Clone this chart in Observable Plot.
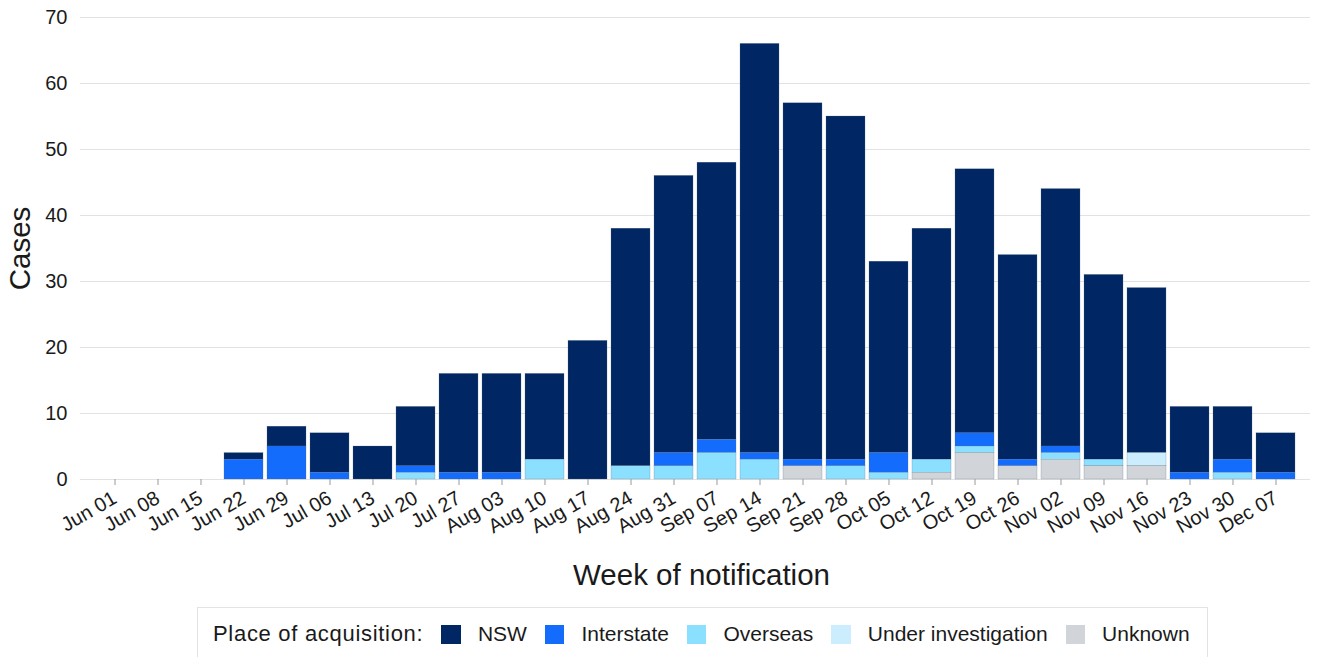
<!DOCTYPE html>
<html>
<head>
<meta charset="utf-8">
<script src="https://cdn.jsdelivr.net/npm/d3@7"></script>
<script src="https://cdn.jsdelivr.net/npm/@observablehq/plot@0.6"></script>
<style>
  body { margin: 0; background: #fff; font-family: "Liberation Sans", Arial, sans-serif; }
  #chart svg { display: block; }
  .legend { position: absolute; left: 197px; top: 607px; width: 1011px; height: 60px; box-sizing: border-box;
    border: 1px solid #e3e3e3; display: flex; align-items: center; padding-left: 15px; padding-bottom: 6px;
    font-size: 21px; color: #1a1a1a; white-space: nowrap; }
  .legend .title { font-size: 22px; letter-spacing: 0.7px; }
  .legend .sw { width: 19.5px; height: 19px; margin-left: 18px; margin-right: 17px; flex: none; }
</style>
</head>
<body>
<div id="chart"></div>
<div class="legend" id="legend"></div>
<script>
const weeks = ["Jun 01","Jun 08","Jun 15","Jun 22","Jun 29","Jul 06","Jul 13","Jul 20","Jul 27","Aug 03","Aug 10","Aug 17","Aug 24","Aug 31","Sep 07","Sep 14","Sep 21","Sep 28","Oct 05","Oct 12","Oct 19","Oct 26","Nov 02","Nov 09","Nov 16","Nov 23","Nov 30","Dec 07"];
const nsw        = [0,0,0,1,3,6,5,9,15,15,13,21,36,42,42,62,54,52,29,35,40,31,39,28,25,10,8,6];
const interstate = [0,0,0,3,5,1,0,1,1,1,0,0,0,2,2,1,1,1,3,0,2,1,1,0,0,1,2,1];
const overseas   = [0,0,0,0,0,0,0,1,0,0,3,0,2,2,4,3,0,2,1,2,1,0,1,1,0,0,1,0];
const underInv   = [0,0,0,0,0,0,0,0,0,0,0,0,0,0,0,0,0,0,0,0,0,0,0,0,2,0,0,0];
const unknown    = [0,0,0,0,0,0,0,0,0,0,0,0,0,0,0,0,2,0,0,1,4,2,3,2,2,0,0,0];
const seriesNames = ["NSW","Interstate","Overseas","Under investigation","Unknown"];
const seriesColors = ["#002664","#146cfd","#8ce0ff","#cbedfd","#d1d5d9"];
const yTicks = [0,10,20,30,40,50,60,70];

const seriesValues = [nsw, interstate, overseas, underInv, unknown];
const data = [];
seriesNames.forEach((s, si) => weeks.forEach((w, wi) => data.push({week: w, source: s, cases: seriesValues[si][wi]})));

const chart = Plot.plot({
  width: 1324,
  height: 600,
  marginLeft: 80,
  marginRight: 14,
  marginTop: 17,
  marginBottom: 121,
  style: {fontFamily: "'Liberation Sans', Arial, sans-serif", color: "#1a1a1a", background: "#fff"},
  x: {domain: weeks, paddingInner: 0.1, paddingOuter: 0.24},
  y: {domain: [0, 70]},
  color: {domain: seriesNames, range: seriesColors},
  marks: [
    Plot.gridY(yTicks, {stroke: "#e2e2e2", strokeOpacity: 1}),
    Plot.barY(data, Plot.stackY({
      x: "week", y: "cases", fill: "source",
      order: ["Unknown","Under investigation","Overseas","Interstate","NSW"],
      stroke: "#5a6a80", strokeWidth: 0.4, strokeOpacity: 0.6
    })),
    Plot.axisY({ticks: yTicks, tickSize: 0, tickPadding: 13, fontSize: 20, label: null}),
    Plot.axisX({tickRotate: -30, tickSize: 6, tickPadding: 11, fontSize: 20, label: null, stroke: "#999"}),
    Plot.text(["Week of notification"], {frameAnchor: "bottom", dx: 6, dy: 105, fontSize: 29.5, fill: "#1a1a1a"}),
    Plot.text(["Cases"], {frameAnchor: "left", textAnchor: "middle", dx: -60, rotate: -90, fontSize: 29.5, fill: "#1a1a1a"})
  ]
});
document.getElementById("chart").appendChild(chart);

const legend = document.getElementById("legend");
const lab = document.createElement("span");
lab.className = "title";
lab.textContent = "Place of acquisition:";
legend.appendChild(lab);
seriesNames.forEach((s, i) => {
  const sw = document.createElement("span");
  sw.className = "sw";
  sw.style.background = seriesColors[i];
  legend.appendChild(sw);
  const t = document.createElement("span");
  t.textContent = s;
  legend.appendChild(t);
});
</script>
</body>
</html>
